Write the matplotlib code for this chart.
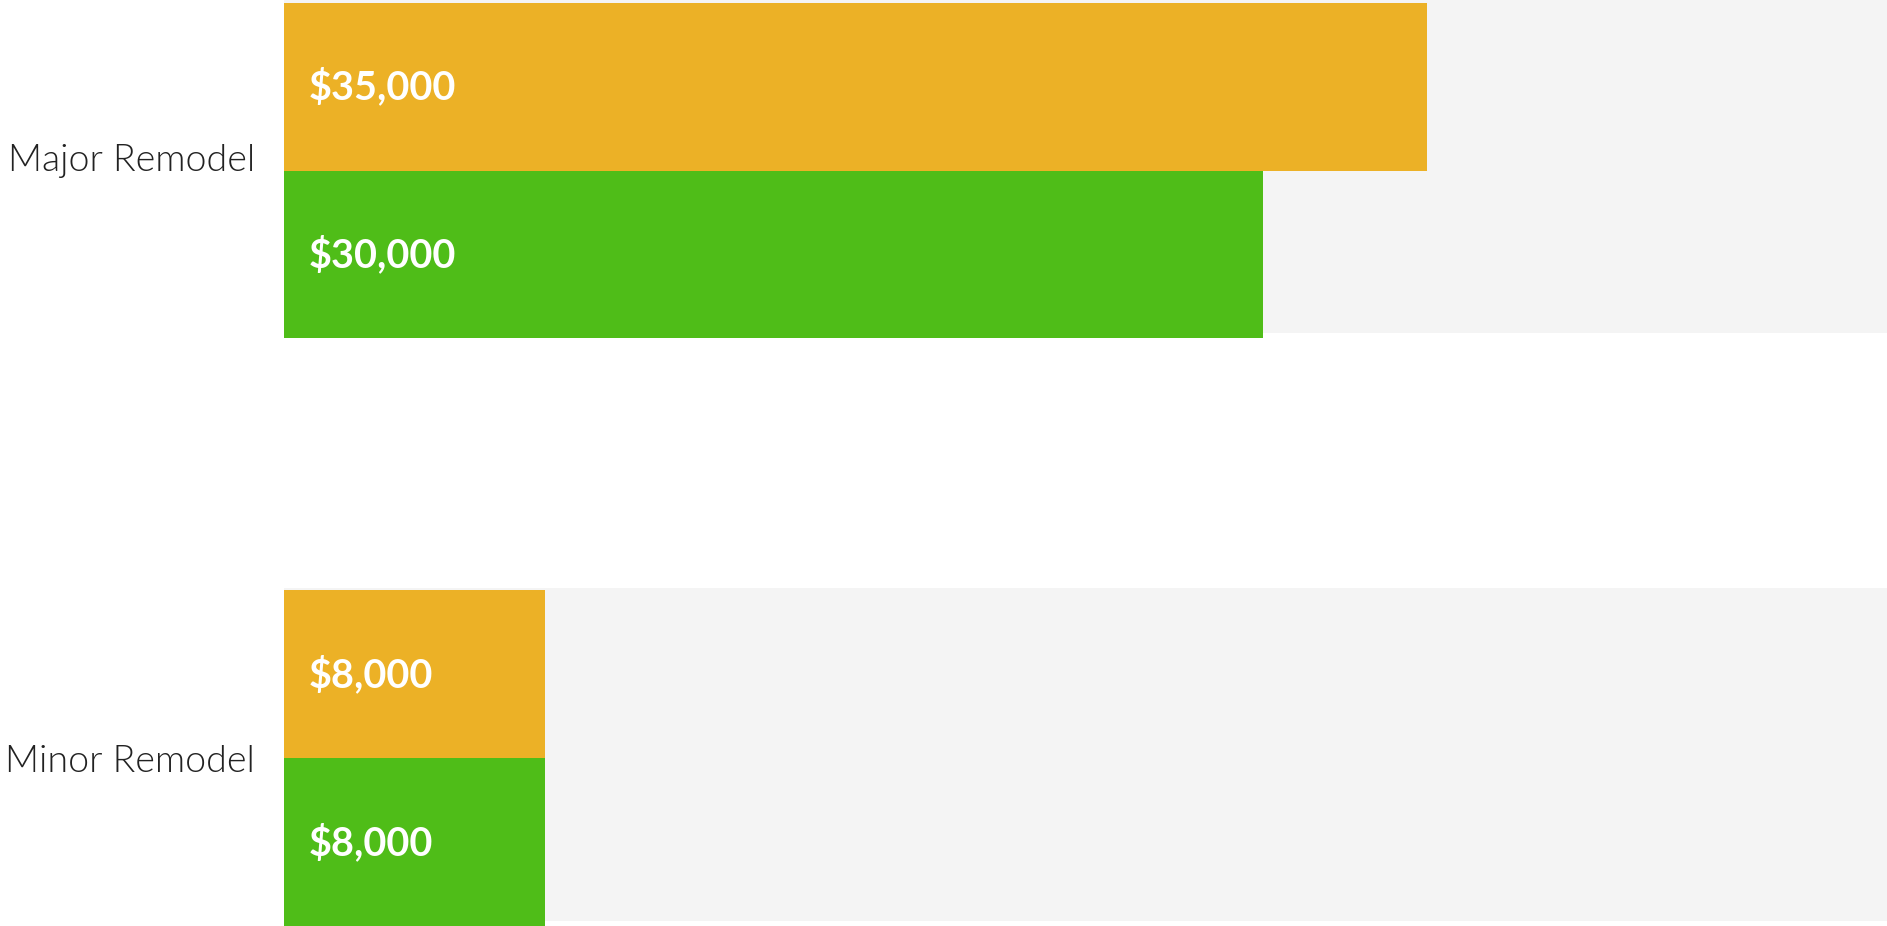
import matplotlib.pyplot as plt
import matplotlib.transforms as mtransforms
import numpy as np

# data
categorias = ["Major Remodel", "Minor Remodel"]
costo_naranja = [35000, 8000]
costo_verde = [30000, 8000]

color_naranja = "#ECB126"
color_verde = "#4FBD18"
color_fondo = "#F4F4F4"

plt.rcParams['font.family'] = ['Lato', 'DejaVu Sans']

fig = plt.figure(figsize=(18.87, 9.26), dpi=100)
ax = fig.add_axes([284 / 1887, 0, 1 - 284 / 1887, 1])

pos = np.arange(len(categorias))
alto = 0.2857
x_max = 49100

# bandas grises de fondo
ax.barh(pos - 0.007, [x_max] * len(categorias), height=2 * alto * 0.99,
        left=0, color=color_fondo, zorder=0)

barras_n = ax.barh(pos - alto / 2, costo_naranja, height=alto, color=color_naranja, zorder=2)
barras_v = ax.barh(pos + alto / 2, costo_verde, height=alto, color=color_verde, zorder=2)

for barras, valores in [(barras_n, costo_naranja), (barras_v, costo_verde)]:
    for b, v in zip(barras, valores):
        ax.annotate(f"${v:,}", xy=(0, b.get_y() + b.get_height() / 2),
                    xytext=(18, 0), textcoords="offset points",
                    ha="left", va="center", color="white",
                    fontsize=28.5, fontweight="bold", zorder=3)

ax.set_xlim(0, x_max)
ax.set_ylim(1.285, -0.290)
ax.set_yticks(pos)
ax.set_yticklabels(categorias, fontsize=27, fontweight=300, color="#222222")
ax.tick_params(axis="y", length=0, pad=21)
ax.set_xticks([])
for s in ax.spines.values():
    s.set_visible(False)

# la etiqueta de arriba queda un poco más alta en el original
primera = ax.get_yticklabels()[0]
primera.set_transform(primera.get_transform() +
                      mtransforms.ScaledTranslation(0, 0.13, fig.dpi_scale_trans))

fig.savefig("out.png", dpi=100, facecolor="white")
